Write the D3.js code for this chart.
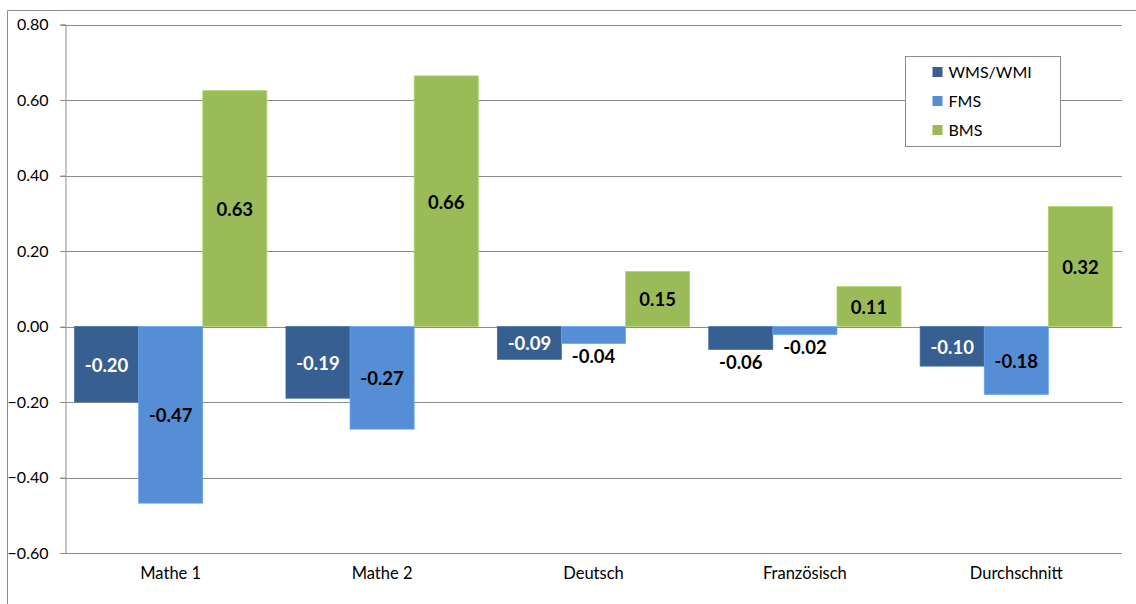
<!DOCTYPE html>
<html>
<head>
<meta charset="utf-8">
<script src="https://cdn.jsdelivr.net/npm/d3@7"></script>
<style>
  body { margin: 0; background: #fff; }
  svg text { font-family: Lato, "Open Sans", sans-serif; }
</style>
</head>
<body>
<div id="chart"></div>
<script>

// data
var categories = ['Mathe 1', 'Mathe 2', 'Deutsch', 'Französisch', 'Durchschnitt'];
var seriesNames = ['WMS/WMI', 'FMS', 'BMS'];
var wmsValues = [-0.20, -0.19, -0.087, -0.061, -0.105];
var fmsValues = [-0.468, -0.272, -0.045, -0.021, -0.18];
var bmsValues = [0.625, 0.664, 0.146, 0.106, 0.318];
var yTicks = [-0.6, -0.4, -0.2, 0, 0.2, 0.4, 0.6, 0.8];

var colors = ['#385f91', '#558ed5', '#9bbb59'];
var labelColors = ['#ffffff', '#000000', '#000000'];

var width = 1136, height = 604;
var margin = {top: 24.5, left: 65, right: 14, bottom: 51};

var svg = d3.select('#chart').append('svg')
    .attr('width', width)
    .attr('height', height);

// outer frame
svg.append('path')
    .attr('d', 'M7.5,604 V10.5 H1136')
    .attr('fill', 'none')
    .attr('stroke', '#8c8c8c')
    .attr('stroke-width', 1);

var x0 = d3.scaleBand()
    .domain(categories)
    .range([margin.left, width - margin.right])
    .paddingInner(0.09)
    .paddingOuter(0.045);

var x1 = d3.scaleBand()
    .domain(seriesNames)
    .range([0, x0.bandwidth()]);

var y = d3.scaleLinear()
    .domain([-0.6, 0.8])
    .range([height - margin.bottom, margin.top]);

// gridlines
svg.append('g').selectAll('line')
    .data(yTicks)
    .enter().append('line')
    .attr('x1', margin.left - 5)
    .attr('x2', width - margin.right)
    .attr('y1', function(d) { return Math.round(y(d)) + 0.5; })
    .attr('y2', function(d) { return Math.round(y(d)) + 0.5; })
    .attr('stroke', '#8c8c8c')
    .attr('stroke-width', 1);

// y axis
var yAxis = svg.append('g')
    .attr('transform', 'translate(' + (margin.left + 0.5) + ',0)')
    .call(d3.axisLeft(y).tickValues(yTicks).tickSize(5).tickPadding(12)
        .tickFormat(d3.format('.2f')));
yAxis.select('.domain').attr('stroke', '#8c8c8c');
yAxis.selectAll('.tick line').attr('stroke', '#8c8c8c');
yAxis.selectAll('text')
    .attr('font-size', 16)
    .attr('fill', '#000')
    .style('font-family', 'Lato, "Open Sans", sans-serif');

// x labels
svg.append('g').selectAll('text')
    .data(categories)
    .enter().append('text')
    .attr('x', function(d) { return x0(d) + x0.bandwidth() / 2; })
    .attr('y', 579)
    .attr('text-anchor', 'middle')
    .attr('font-size', 16.5)
    .text(function(d) { return d; });

// bars
var series = [wmsValues, fmsValues, bmsValues];
var barData = [];
categories.forEach(function(c, i) {
  series.forEach(function(vals, s) {
    barData.push({cat: c, s: s, v: vals[i]});
  });
});

svg.append('g').selectAll('rect')
    .data(barData)
    .enter().append('rect')
    .attr('x', function(d) { return x0(d.cat) + x1(seriesNames[d.s]); })
    .attr('y', function(d) { return y(Math.max(0, d.v)); })
    .attr('width', x1.bandwidth())
    .attr('height', function(d) { return Math.abs(y(d.v) - y(0)); })
    .attr('fill', function(d) { return colors[d.s]; })
    .attr('stroke', function(d) { return d3.color(colors[d.s]).brighter(0.4); })
    .attr('stroke-width', 0.7);

// value labels: centered in bar, below bar end if bar is too short
svg.append('g').selectAll('text')
    .data(barData)
    .enter().append('text')
    .attr('x', function(d) { return x0(d.cat) + x1(seriesNames[d.s]) + x1.bandwidth() / 2; })
    .attr('y', function(d) {
      var h = Math.abs(y(d.v) - y(0));
      if (h < 30) return y(d.v) + 13;
      return (y(d.v) + y(0)) / 2 + 1;
    })
    .attr('dy', '0.35em')
    .attr('text-anchor', 'middle')
    .attr('font-size', 18.5)
    .attr('font-weight', 'bold')
    .attr('fill', function(d) {
      var h = Math.abs(y(d.v) - y(0));
      return h < 30 ? '#000' : labelColors[d.s];
    })
    .text(function(d) { return d.v.toFixed(2); });

// legend
var legend = svg.append('g').attr('transform', 'translate(905.5,56.5)');
legend.append('rect')
    .attr('width', 155)
    .attr('height', 90)
    .attr('fill', '#fff')
    .attr('stroke', '#8c8c8c');
var items = legend.selectAll('g.item')
    .data(seriesNames)
    .enter().append('g')
    .attr('class', 'item')
    .attr('transform', function(d, i) { return 'translate(27,' + (15.5 + i * 29) + ')'; });
items.append('rect')
    .attr('y', -5)
    .attr('width', 10)
    .attr('height', 10)
    .attr('fill', function(d, i) { return colors[i]; });
items.append('text')
    .attr('x', 16)
    .attr('dy', '0.35em')
    .attr('font-size', 16)
    .text(function(d) { return d; });

</script>
</body>
</html>
